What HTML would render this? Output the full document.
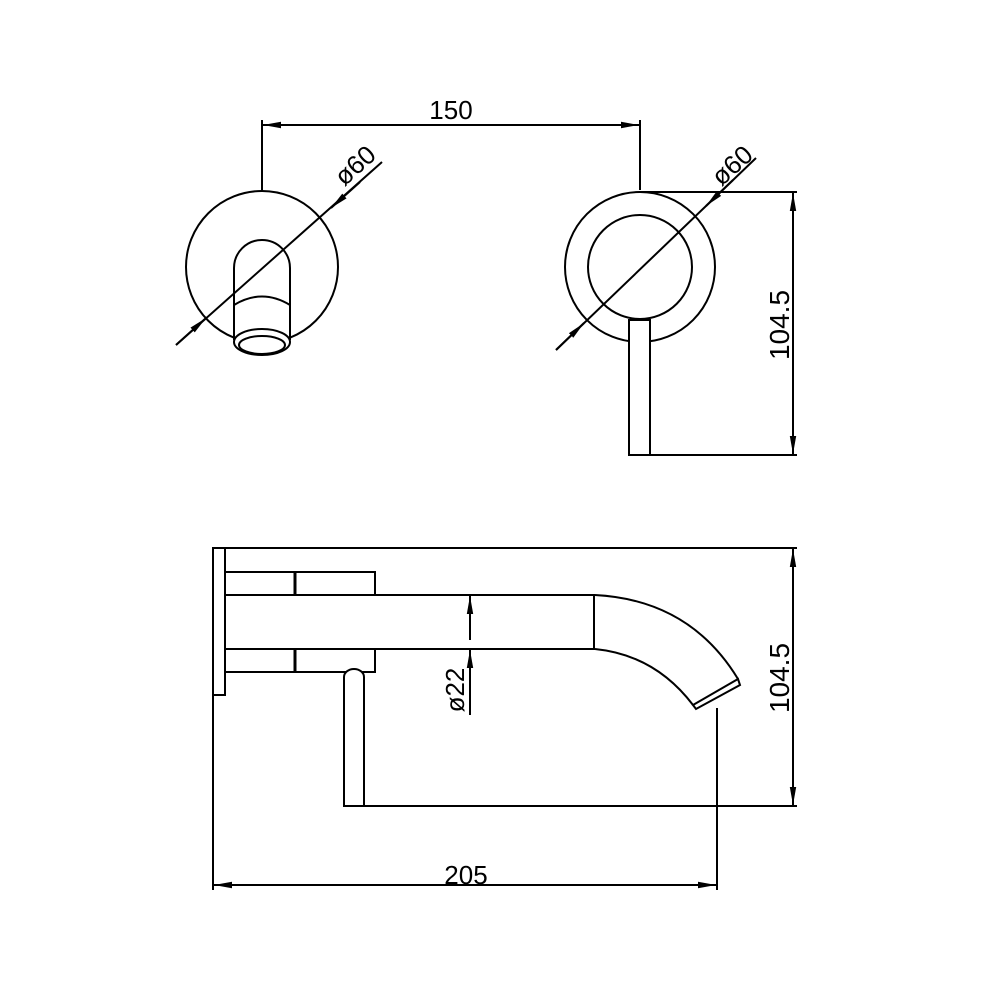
<!DOCTYPE html>
<html><head><style>body{margin:0;background:#fff}svg{display:block}</style></head><body>
<svg width="1000" height="1000" viewBox="0 0 1000 1000" xmlns="http://www.w3.org/2000/svg">
<defs>
<marker id="a" viewBox="0 0 10 10" refX="10" refY="5" markerWidth="18" markerHeight="8" markerUnits="userSpaceOnUse" orient="auto-start-reverse" preserveAspectRatio="none"><path d="M0,1 L10,5 L0,9 z" fill="#000"/></marker>
</defs>
<g fill="none" stroke="#000" stroke-width="2">
<!-- 150 dimension -->
<line x1="262" y1="120" x2="262" y2="190"/>
<line x1="640" y1="120" x2="640" y2="190"/>
<line x1="263" y1="125" x2="639" y2="125" marker-start="url(#a)" marker-end="url(#a)"/>
<!-- left circle -->
<circle cx="262" cy="267" r="76"/>
<path d="M234,340 V268 A28,28 0 0 1 290,268 V340"/>
<path d="M234,305 Q262,288 290,305"/>
<ellipse cx="262" cy="342" rx="28" ry="13" fill="#fff"/>
<ellipse cx="262" cy="345" rx="23" ry="9"/>
<line x1="176" y1="345" x2="382" y2="162"/>
<line x1="176" y1="345" x2="206" y2="318" marker-end="url(#a)"/>
<line x1="360" y1="182" x2="331" y2="208" marker-end="url(#a)"/>
<!-- right circle -->
<circle cx="640" cy="267" r="75"/>
<rect x="629" y="320" width="21" height="135" fill="#fff"/>
<circle cx="640" cy="267" r="52"/>
<line x1="556" y1="350" x2="756" y2="158"/>
<line x1="556" y1="350" x2="584" y2="323" marker-end="url(#a)"/>
<line x1="733" y1="180" x2="706" y2="206" marker-end="url(#a)"/>
<line x1="640" y1="192" x2="797" y2="192"/>
<line x1="650" y1="455" x2="797" y2="455"/>
<line x1="793" y1="193" x2="793" y2="454" marker-start="url(#a)" marker-end="url(#a)"/>
<!-- side view -->
<line x1="213" y1="548" x2="797" y2="548"/>
<rect x="213" y="548" width="12" height="147"/>
<rect x="225" y="572" width="150" height="23"/>
<rect x="225" y="649" width="150" height="23"/>
<line x1="295" y1="572" x2="295" y2="595" stroke-width="3"/>
<line x1="295" y1="649" x2="295" y2="672" stroke-width="3"/>
<line x1="375" y1="595" x2="595" y2="595"/>
<line x1="375" y1="649" x2="595" y2="649"/>
<line x1="594" y1="595" x2="594" y2="649"/>
<path d="M595,595 Q690,600 738,679"/>
<path d="M595,649 Q655,655 693,705"/>
<path d="M693,705 L738,679 L740,685 L696,709 Z"/>
<path d="M344,806 V677 A10,8 0 0 1 364,677 V806 Z" fill="#fff"/>
<line x1="364" y1="806" x2="797" y2="806"/>
<line x1="793" y1="549" x2="793" y2="805" marker-start="url(#a)" marker-end="url(#a)"/>
<line x1="213" y1="695" x2="213" y2="890"/>
<line x1="717" y1="708" x2="717" y2="890"/>
<line x1="214" y1="885" x2="716" y2="885" marker-start="url(#a)" marker-end="url(#a)"/>
<line x1="470" y1="640" x2="470" y2="596" marker-end="url(#a)"/>
<line x1="470" y1="715" x2="470" y2="650" marker-end="url(#a)"/>
</g>
<g font-family="Liberation Sans, sans-serif" font-size="26" fill="#000">
<text x="451" y="119" text-anchor="middle">150</text>
<text x="466" y="884" text-anchor="middle">205</text>
<text transform="translate(361,172) rotate(-42)" text-anchor="middle">ø60</text>
<text transform="translate(738,172) rotate(-42)" text-anchor="middle">ø60</text>
<text transform="translate(789,325) rotate(-90)" text-anchor="middle" font-size="28">104.5</text>
<text transform="translate(789,678) rotate(-90)" text-anchor="middle" font-size="28">104.5</text>
<text transform="translate(464,690) rotate(-90)" text-anchor="middle">ø22</text>
</g>
</svg>
</body></html>
